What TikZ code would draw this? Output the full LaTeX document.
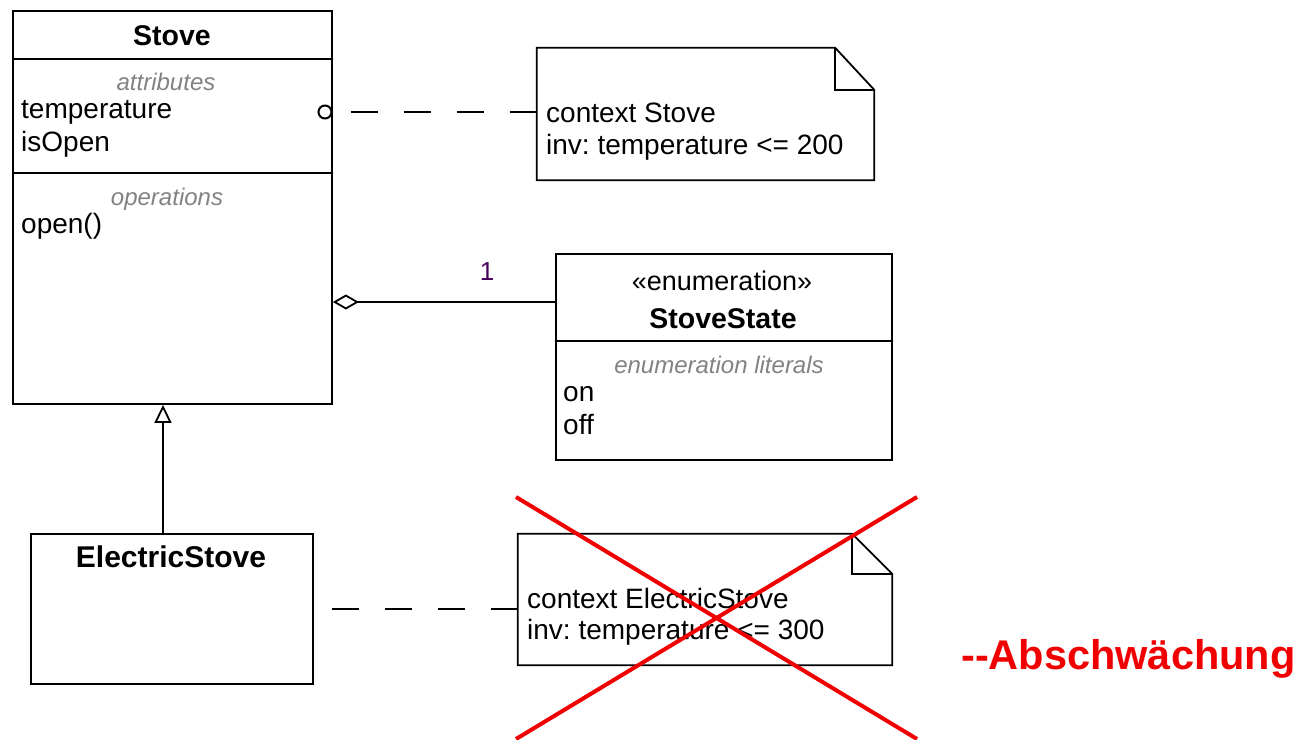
\documentclass[tikz,border=0pt]{standalone}
\usepackage{fontspec}
\setmainfont{Liberation Sans}
\usetikzlibrary{arrows.meta}
\definecolor{compgrey}{RGB}{130,130,130}
\definecolor{multcol}{RGB}{70,0,90}
\definecolor{xred}{RGB}{240,0,0}
\frenchspacing
\tikzset{
  box/.style={draw, line width=1.8pt, rectangle, inner sep=0pt},
  notebody/.style={draw=none, rectangle, inner sep=0pt},
  outline/.style={line width=1.8pt, line join=miter},
  txt/.style={inner sep=0pt, font=\fontsize{28}{34}\selectfont, anchor=base west},
  ttl/.style={inner sep=0pt, font=\fontsize{28.5}{34}\selectfont\bfseries, anchor=base},
  cmp/.style={inner sep=0pt, font=\fontsize{24}{28}\selectfont\itshape, text=compgrey, anchor=base},
  divider/.style={line width=1.8pt},
  dashlink/.style={line width=2.6pt, dash pattern=on 27pt off 26pt, dash phase=35pt},
  aggr/.style={line width=1.8pt, {Diamond[open, length=26pt, width=15pt, line width=1.8pt]}-},
  gen/.style={line width=1.8pt, -{Triangle[open, length=18pt, width=17pt, line width=1.8pt]}},
  cross/.style={line width=4pt, draw=xred},
}
\begin{document}
\begin{tikzpicture}[x=1pt, y=-1pt]
\useasboundingbox (0,0) rectangle (1313,739);

% ---------- Stove ----------
\node[box, minimum width=319pt, minimum height=393pt] (stove) at (172.5,207.5) {};
\draw[divider] (stove.west |- 0,59) -- (stove.east |- 0,59);
\draw[divider] (stove.west |- 0,173) -- (stove.east |- 0,173);
\node[ttl] (stovet) at (172,45) {Stove};
\node[cmp] (stoveattr) at (166,90) {attributes};
\node[txt] (stemp) at (21,118) {temperature};
\node[txt] (sopen) at (21,151) {isOpen};
\node[cmp] (stoveops) at (167,205) {operations};
\node[txt] (sopenop) at (21,233) {open()};
\node[draw, circle, line width=2pt, minimum size=13pt, inner sep=0pt] (anc) at (325,112) {};

% ---------- Note 1 ----------
\node[notebody, minimum width=337pt, minimum height=132pt] (note1) at (705.5,114) {};
\draw[outline] (note1.north west) -- ([xshift=-39pt]note1.north east) -- ([yshift=-42pt]note1.north east)
  -- (note1.south east) -- (note1.south west) -- cycle;
\draw[outline] ([xshift=-39pt]note1.north east) -- ([xshift=-39pt,yshift=-42pt]note1.north east) -- ([yshift=-42pt]note1.north east);
\node[txt] (n1a) at (546,122) {context Stove};
\node[txt] (n1b) at (546,154) {inv: temperature <= 200};

\draw[dashlink] (anc.east) -- (anc.east -| note1.west);

% ---------- StoveState ----------
\node[box, minimum width=336pt, minimum height=206pt] (enum) at (724,357) {};
\draw[divider] (enum.west |- 0,341) -- (enum.east |- 0,341);
\node[inner sep=0pt, font=\fontsize{27}{32}\selectfont, anchor=base] (enumst) at (722,290) {«enumeration»};
\node[ttl] (enumt) at (723,328) {StoveState};
\node[cmp] (enumlit) at (719,373) {enumeration literals};
\node[txt] (eon) at (563,401) {on};
\node[txt] (eoff) at (563,434) {off};

\coordinate (aggy) at (0,302);
\draw[aggr] (stove.east |- aggy) -- (enum.west |- aggy);
\node[inner sep=0pt, font=\fontsize{26}{30}\selectfont, text=multcol, anchor=base] (mult) at (487,280) {1};

% ---------- ElectricStove ----------
\node[box, minimum width=282pt, minimum height=150pt] (estove) at (172,609) {};
\node[ttl, font=\fontsize{30}{34}\selectfont\bfseries] (estovet) at (171,567) {ElectricStove};
\coordinate (genx) at (163,0);
\draw[gen] (estove.north -| genx) -- (stove.south -| genx);

% ---------- Note 2 ----------
\node[notebody, minimum width=374pt, minimum height=131pt] (note2) at (705,599.5) {};
\draw[outline] (note2.north west) -- ([xshift=-40pt]note2.north east) -- ([yshift=-40pt]note2.north east)
  -- (note2.south east) -- (note2.south west) -- cycle;
\draw[outline] ([xshift=-40pt]note2.north east) -- ([xshift=-40pt,yshift=-40pt]note2.north east) -- ([yshift=-40pt]note2.north east);
\node[txt] (n2a) at (527,608) {context ElectricStove};
\node[txt] (n2b) at (527,639) {inv: temperature <= 300};

\draw[dashlink] (estove.east) -- (estove.east -| note2.west);

% ---------- red cross ----------
\coordinate (xa) at (516,497);
\coordinate (xb) at (917,739);
\coordinate (xc) at (917,497);
\coordinate (xd) at (516,739);
\draw[cross] (xa) -- (xb);
\draw[cross] (xc) -- (xd);
\node[inner sep=0pt, font=\fontsize{41.5}{46}\selectfont\bfseries, text=xred, anchor=base west] (absch) at (961,669) {-{}-Abschwächung};
\end{tikzpicture}
\end{document}
